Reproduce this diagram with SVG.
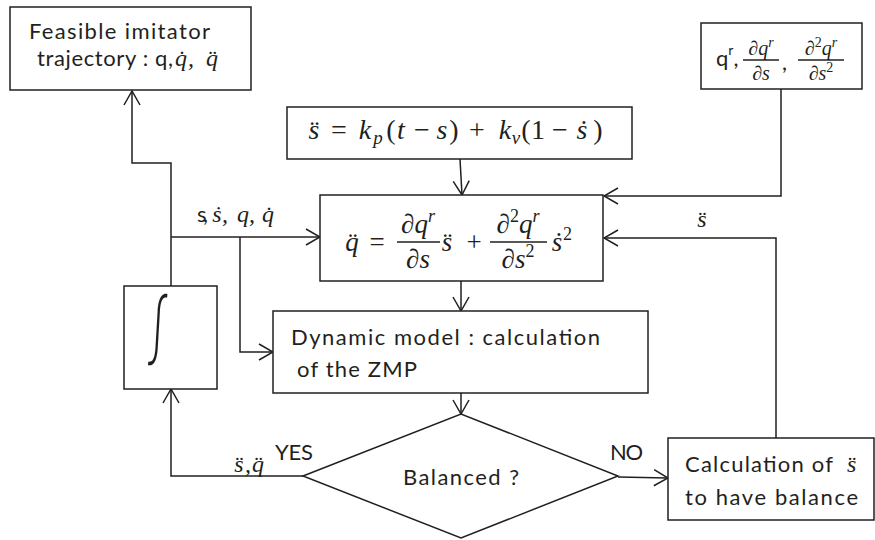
<svg xmlns="http://www.w3.org/2000/svg" width="875" height="540" viewBox="0 0 875 540">
<defs>
<style>
.box{fill:#fff;stroke:#231f20;stroke-width:1.5}
.ln{fill:none;stroke:#231f20;stroke-width:1.5;marker-end:url(#arr)}
.bar{stroke:#231f20;stroke-width:1.4}
.t{font-family:Lato,"Open Sans",sans-serif;font-size:22px;fill:#231f20}
.m{font-family:"Liberation Serif",serif;font-style:italic;fill:#231f20}
.u{font-style:normal}
.c{text-anchor:middle}
</style>
<marker id="arr" viewBox="0 0 16 18" refX="15" refY="9" markerWidth="16" markerHeight="18" markerUnits="userSpaceOnUse" orient="auto">
<path d="M1,1 L15,9 L1,17" fill="none" stroke="#231f20" stroke-width="1.5"/>
</marker>
</defs>
<rect width="875" height="540" fill="#fff"/>

<g id="connectors">
<polyline class="ln" points="171,286 171,163 132,163 132,91"/>
<polyline class="ln" points="171,237 320,237"/>
<polyline class="ln" points="240,237 240,352 273,352"/>
<polyline class="ln" points="460,159 462,195"/>
<polyline class="ln" points="781,89 781,196 604,196"/>
<polyline class="ln" points="776,438 776,238 604,238"/>
<polyline class="ln" points="461,281 461,311"/>
<polyline class="ln" points="461,393 461,414"/>
<polyline class="ln" points="618,477 668,478"/>
<polyline class="ln" points="303,476 171,476 171,389"/>
<text class="t" x="197" y="222" textLength="11">s,</text>
<text class="m c" y="222" font-size="24"><tspan x="217">ṡ</tspan><tspan x="225">,</tspan><tspan x="243">q</tspan><tspan x="252">,</tspan><tspan x="268">q̇</tspan></text>
<text class="m c" x="702" y="227" font-size="24">s̈</text>
<text class="m c" y="472" font-size="24"><tspan x="239">s̈</tspan><tspan x="248">,</tspan><tspan x="258">q̈</tspan></text>
<text class="t" x="275" y="460" textLength="38">YES</text>
<text class="t" x="610" y="460" textLength="33">NO</text>
</g>

<g id="feasible">
<rect class="box" x="10" y="7" width="241" height="83"/>
<text class="t" x="29" y="39" textLength="181">Feasible imitator</text>
<text class="t" x="37" y="66" textLength="136">trajectory : q,</text>
<text class="m c" y="66" font-size="24"><tspan x="181">q̇</tspan><tspan x="191">,</tspan><tspan x="212">q̈</tspan></text>
</g>

<g id="qr">
<rect class="box" x="701" y="23" width="161" height="66"/>
<text class="t" x="716" y="66">q<tspan style="font-size:14px" dy="-11">r</tspan><tspan dy="11">,</tspan></text>
<line class="bar" x1="743" y1="60" x2="779" y2="60"/>
<text class="m c" x="761" y="55" font-size="20">∂q<tspan font-size="14" dy="-8">r</tspan></text>
<text class="m c" x="761" y="80" font-size="20">∂s</text>
<text class="t" x="782" y="70">,</text>
<line class="bar" x1="798" y1="60" x2="844" y2="60"/>
<text class="m c" x="821" y="55" font-size="20">∂<tspan class="u" font-size="14" dy="-8">2</tspan><tspan dy="8">q</tspan><tspan font-size="14" dy="-8">r</tspan></text>
<text class="m c" x="821" y="80" font-size="20">∂s<tspan class="u" font-size="14" dy="-8">2</tspan></text>
</g>

<g id="keq">
<rect class="box" x="287" y="107" width="345" height="52"/>
<text class="m c" y="139" font-size="28"><tspan x="314">s̈</tspan><tspan x="339" class="u">=</tspan><tspan x="365">k</tspan><tspan x="378" y="144" font-size="19">p</tspan><tspan x="391" y="139" class="u">(</tspan><tspan x="401">t</tspan><tspan x="422" class="u">−</tspan><tspan x="442">s</tspan><tspan x="454" class="u">)</tspan><tspan x="477" class="u">+</tspan><tspan x="505">k</tspan><tspan x="516" y="144" font-size="19">v</tspan><tspan x="526" y="139" class="u">(</tspan><tspan x="538" class="u">1</tspan><tspan x="560" class="u">−</tspan><tspan x="582">ṡ</tspan><tspan x="598" class="u">)</tspan></text>
</g>

<g id="qeq">
<rect class="box" x="320" y="195" width="283" height="86"/>
<text class="m c" y="251" font-size="27"><tspan x="352">q̈</tspan><tspan x="377" class="u">=</tspan><tspan x="447">s̈</tspan><tspan x="474" class="u">+</tspan><tspan x="557">ṡ</tspan></text>
<text class="m u" x="563" y="240" font-size="18">2</text>
<line class="bar" x1="397" y1="242" x2="440" y2="242"/>
<text class="m c" x="418" y="233" font-size="27">∂q<tspan font-size="18" dy="-11">r</tspan></text>
<text class="m c" x="418" y="268" font-size="27">∂s</text>
<line class="bar" x1="490" y1="242" x2="547" y2="242"/>
<text class="m c" x="518" y="233" font-size="27">∂<tspan class="u" font-size="18" dy="-11">2</tspan><tspan dy="11">q</tspan><tspan font-size="18" dy="-11">r</tspan></text>
<text class="m c" x="518" y="268" font-size="27">∂s<tspan class="u" font-size="18" dy="-11">2</tspan></text>
</g>

<g id="integrator">
<rect class="box" x="124" y="286" width="93" height="103"/>
<text transform="translate(156,359) scale(0.7,1.25) skewX(-6)" text-anchor="middle" font-family="'Noto Sans CJK JP',sans-serif" font-weight="300" font-size="62" fill="#231f20">∫</text>
</g>

<g id="dynamic">
<rect class="box" x="273" y="311" width="375" height="82"/>
<text class="t" x="291" y="345" textLength="309">Dynamic model : calculation</text>
<text class="t" x="297" y="377" textLength="120">of the ZMP</text>
</g>

<g id="balanced">
<polygon class="box" points="303,476 461,414 618,476 461,538"/>
<text class="t" x="403" y="485" textLength="116">Balanced ?</text>
</g>

<g id="calc">
<rect class="box" x="668" y="438" width="206" height="82"/>
<text class="t" x="685" y="472" textLength="148">Calculation of</text>
<text class="m" x="847" y="472" font-size="24">s̈</text>
<text class="t" x="685" y="505" textLength="173">to have balance</text>
</g>
</svg>
